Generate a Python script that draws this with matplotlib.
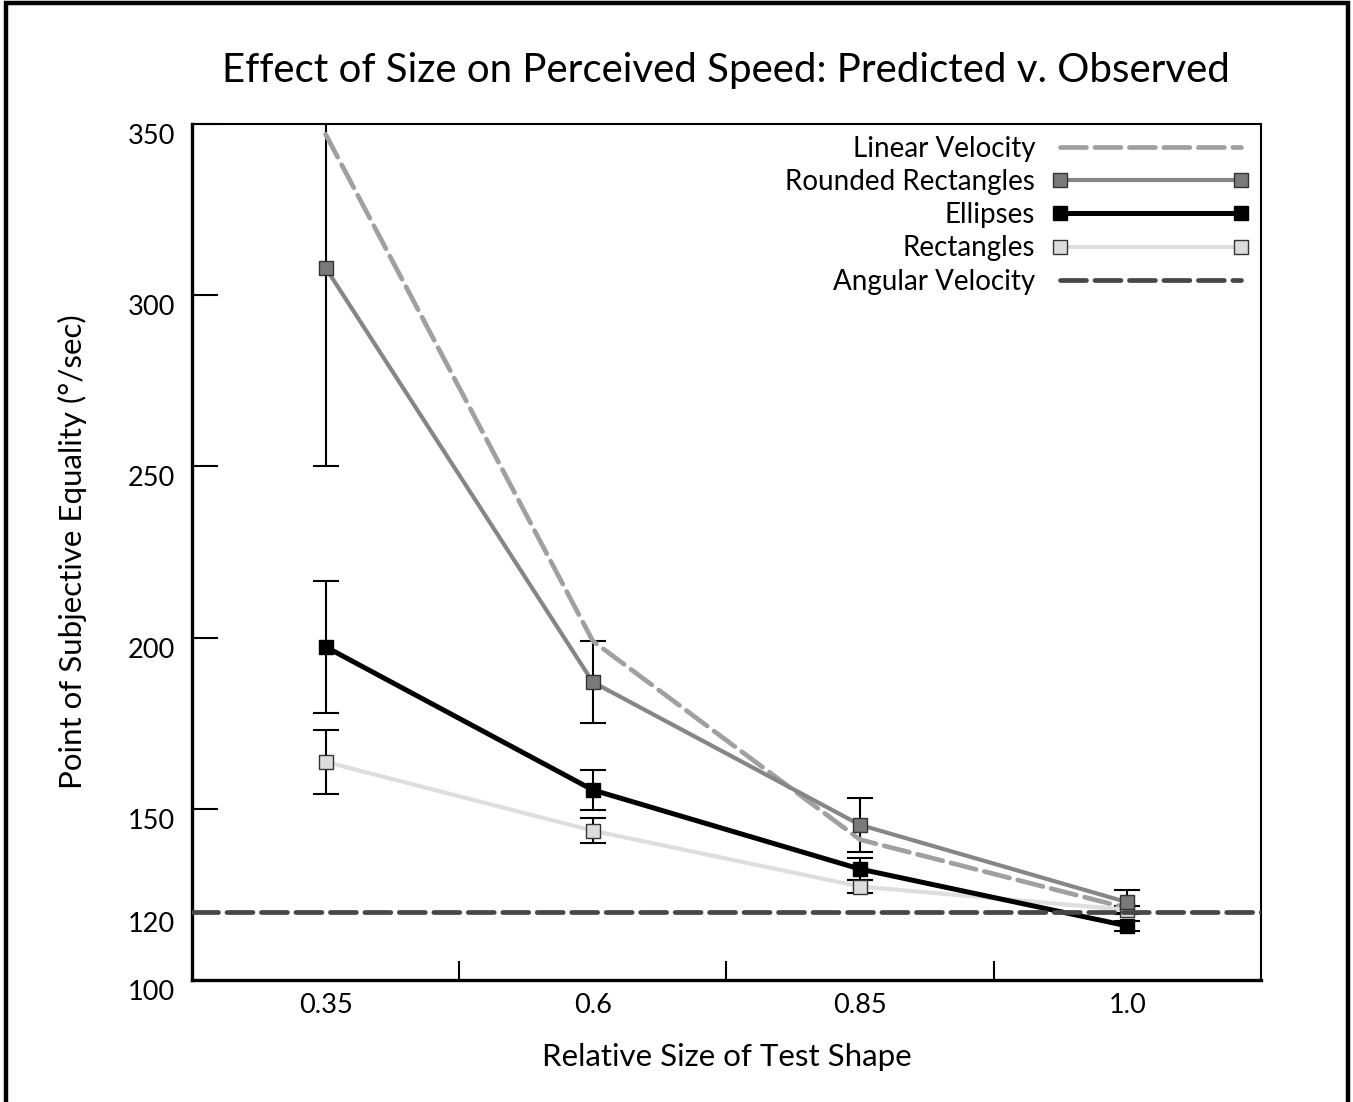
import matplotlib
matplotlib.use("Agg")
import matplotlib.pyplot as plt
import matplotlib.transforms as mtransforms
from matplotlib.patches import Rectangle

plt.rcParams['font.family'] = ['Lato', 'DejaVu Sans']

# categories on the x axis
sizes = ['0.35', '0.6', '0.85', '1.0']

# predicted curves
linear_velocity = [347, 199, 141, 121]
angular_velocity = [120, 120, 120, 120]

# observed points of subjective equality and their error bars
rounded_rect = [308, 187, 145.3, 122.7]
rounded_rect_err = [58, 12, 8, 3.5]
ellipses = [197.3, 155.5, 132.4, 115.8]
ellipses_err = [19.2, 5.9, 3.3, 1.5]
rectangles = [163.7, 143.6, 127.3, 120.5]
rectangles_err = [9.4, 3.6, 1.8, 1.0]

yticks = [100, 120, 150, 200, 250, 300, 350]

fig = plt.figure(figsize=(13.53, 11.02), dpi=100)
ax = fig.add_axes([0.1419, 0.1107, 0.7900, 0.7768])

x = list(range(len(sizes)))

# error bars first, behind the lines and markers
for vals, errs in [(rounded_rect, rounded_rect_err), (ellipses, ellipses_err), (rectangles, rectangles_err)]:
    ax.errorbar(x, vals, yerr=errs, fmt='none', ecolor='black', elinewidth=1.5,
                capsize=9.5, capthick=1.5, zorder=2)

dash = (5.5, 1.8)
ax.plot(x, linear_velocity, color='#a0a0a0', lw=3.4, dashes=dash,
        dash_capstyle='round', label='Linear Velocity', zorder=3)
ax.plot(x, rectangles, color='#dedede', lw=3.0, marker='s', ms=9.5,
        mfc='#dcdcdc', mec='#333333', mew=1.0, label='Rectangles', zorder=3)
ax.plot(x, rounded_rect, color='#868686', lw=3.0, marker='s', ms=9.5,
        mfc='#7a7a7a', mec='#333333', mew=1.0, label='Rounded Rectangles', zorder=4)
ax.plot(x, ellipses, color='black', lw=3.6, marker='s', ms=10,
        mfc='black', mec='black', mew=1.0, label='Ellipses', zorder=5)
ax.axhline(angular_velocity[0], color='#474747', lw=3.4, dashes=dash,
           dash_capstyle='round', label='Angular Velocity', zorder=6)

ax.set_xlim(-0.5, 3.5)
ax.set_ylim(100, 350)

# x axis: labels at the categories, small inward ticks between them
ax.set_xticks(x)
ax.set_xticklabels(sizes, fontsize=19.5)
ax.set_xticks([0.5, 1.5, 2.5], minor=True)
ax.tick_params(axis='x', which='major', length=0, pad=9)
ax.tick_params(axis='x', which='minor', direction='in', length=14, width=1.5)

# y axis: labels sit a little below their values
ax.set_yticks(yticks)
ax.set_yticklabels([str(t) for t in yticks], fontsize=19.5)
ax.tick_params(axis='y', direction='in', length=19, width=1.5, pad=12)
for t, tick in zip(yticks, ax.yaxis.get_major_ticks()):
    if t < 150:
        tick.tick1line.set_visible(False)
offset = mtransforms.ScaledTranslation(0, -0.10, fig.dpi_scale_trans)
for lab in ax.get_yticklabels():
    lab.set_transform(lab.get_transform() + offset)

for side, w in [('left', 2.4), ('bottom', 2.4), ('top', 1.5), ('right', 1.5)]:
    ax.spines[side].set_linewidth(w)

ax.set_title('Effect of Size on Perceived Speed: Predicted v. Observed', fontsize=29, pad=30)
ax.set_ylabel('Point of Subjective Equality (°/sec)', fontsize=22.5)
ax.set_xlabel('Relative Size of Test Shape', fontsize=22.5)
ax.yaxis.set_label_coords(-0.098, 0.5)
ax.xaxis.set_label_coords(0.5, -0.074)

handles, labels = ax.get_legend_handles_labels()
order = ['Linear Velocity', 'Rounded Rectangles', 'Ellipses', 'Rectangles', 'Angular Velocity']
hmap = dict(zip(labels, handles))
ax.legend([hmap[k] for k in order], order, loc='upper right', frameon=False,
          markerfirst=False, numpoints=2, fontsize=20, handlelength=7.1,
          labelspacing=0.26, handletextpad=0.6, borderaxespad=0.02)

# outer frame round the whole figure
fig.patches.append(Rectangle((0.0045, -0.02), 0.9915, 1.017, transform=fig.transFigure,
                             fill=False, lw=3.2, edgecolor='black'))

fig.savefig('out.png', dpi=100)
